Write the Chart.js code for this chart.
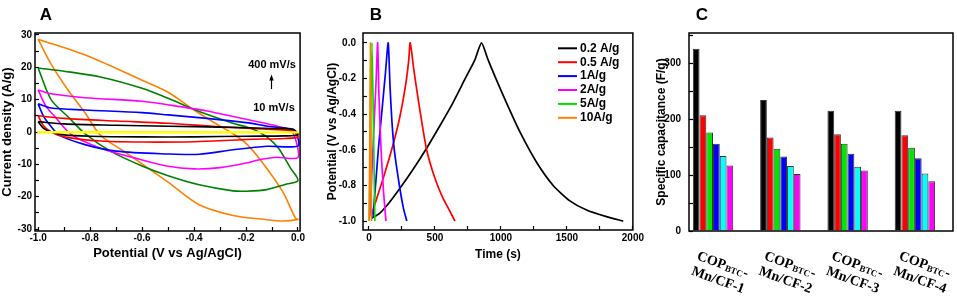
<!DOCTYPE html>
<html>
<head>
<meta charset="utf-8">
<title>CV, GCD and specific capacitance</title>
<script src="https://cdn.jsdelivr.net/npm/chart.js@4.4.1/dist/chart.umd.min.js"></script>
<style>
  html, body { margin: 0; padding: 0; background: #fff; }
  #fig { position: relative; width: 957px; height: 304px; overflow: hidden; }
  #fig canvas { position: absolute; top: 0; }
</style>
</head>
<body>
<div id="fig">
  <canvas id="cvChart" width="310" height="304" style="left:0px"></canvas>
  <canvas id="gcdChart" width="325" height="304" style="left:325px"></canvas>
  <canvas id="capChart" width="312" height="304" style="left:645px"></canvas>
</div>
<script>
// panel A: cyclic voltammetry loops, [potential (V), current density (A/g)]
const cv10 = [[-1.0,0.1],[-0.5,0.05],[0.0,0.0],[0.0,-0.2],[-0.5,-0.25],[-1.0,-0.2],[-1.0,0.1]]
const cv20 = [[-1.0,3.2],[-0.9,2.5],[-0.7,2.1],[-0.5,1.8],[-0.3,1.5],[-0.1,1.1],[-0.02,0.9],[0.0,-0.8],[-0.05,-1.2],[-0.2,-1.3],[-0.4,-1.5],[-0.6,-1.5],[-0.8,-1.3],[-0.9,-0.9],[-0.95,0.0],[-0.98,1.2],[-1.0,3.2]]
const cv50 = [[-1.0,5.0],[-0.9,4.2],[-0.7,3.4],[-0.5,2.7],[-0.3,1.6],[-0.1,0.8],[-0.02,0.3],[0.0,-1.5],[-0.05,-2.0],[-0.2,-2.3],[-0.4,-3.0],[-0.6,-3.1],[-0.76,-2.8],[-0.9,-1.5],[-0.95,0.0],[-0.98,2.0],[-1.0,5.0]]
const cv100 = [[-1.0,8.7],[-0.95,7.4],[-0.82,6.8],[-0.6,6.0],[-0.5,5.3],[-0.35,4.2],[-0.2,2.9],[-0.1,1.6],[-0.03,0.9],[-0.005,-0.8],[0.0,-4.3],[-0.12,-4.4],[-0.25,-5.5],[-0.38,-6.9],[-0.5,-6.8],[-0.7,-5.9],[-0.82,-3.9],[-0.92,-0.9],[-0.96,2.7],[-0.98,5.0],[-1.0,8.7]]
const cv200 = [[-1.0,13.0],[-0.95,11.8],[-0.82,10.6],[-0.6,9.5],[-0.5,8.4],[-0.35,6.5],[-0.25,4.8],[-0.15,3.1],[-0.08,1.8],[-0.03,0.6],[-0.01,-2.0],[0.0,-7.9],[-0.08,-7.8],[-0.14,-8.4],[-0.2,-9.6],[-0.3,-11.0],[-0.4,-11.4],[-0.5,-10.6],[-0.63,-8.0],[-0.76,-5.0],[-0.87,-0.9],[-0.935,4.7],[-0.97,8.0],[-1.0,13.0]]
const cv300 = [[-1.0,19.8],[-0.9,18.8],[-0.76,17.0],[-0.6,13.5],[-0.5,10.4],[-0.38,6.3],[-0.25,2.7],[-0.17,0.8],[-0.12,-1.5],[-0.075,-5.0],[-0.03,-11.0],[0.0,-15.0],[-0.05,-16.2],[-0.12,-17.8],[-0.2,-18.3],[-0.25,-18.2],[-0.38,-16.3],[-0.5,-13.5],[-0.6,-10.5],[-0.72,-6.0],[-0.82,-0.5],[-0.885,4.7],[-0.95,10.0],[-1.0,19.8]]
const cv400 = [[-1.0,28.7],[-0.8,23.2],[-0.6,16.0],[-0.5,12.3],[-0.4,6.8],[-0.3,1.8],[-0.26,0.0],[-0.2,-3.5],[-0.14,-9.1],[-0.06,-18.3],[-0.01,-26.6],[0.0,-27.0],[-0.06,-27.5],[-0.12,-27.1],[-0.25,-25.8],[-0.38,-22.5],[-0.5,-15.5],[-0.66,-6.5],[-0.76,-1.0],[-0.82,6.0],[-0.885,13.0],[-0.95,21.0],[-1.0,28.7]]
const cvLabels = ['10 mV/s','20 mV/s','50 mV/s','100 mV/s','200 mV/s','300 mV/s','400 mV/s']
const cvXMajor = [-1.0,-0.8,-0.6,-0.4,-0.2,0.0]
const cvXMinor = [-0.9,-0.7,-0.5,-0.3,-0.1]
const cvYMajor = [-30,-20,-10,0,10,20,30]
const cvYMinor = [-25,-15,-5,5,15,25]

// panel B: charge/discharge curves, [time (s), potential (V)]
const gcd02 = [[20,-0.985],[83,-0.955],[150,-0.9],[235,-0.816],[330,-0.715],[430,-0.6],[530,-0.475],[630,-0.345],[730,-0.2],[800,-0.1],[853,0.0],[900,-0.09],[950,-0.18],[1050,-0.35],[1144,-0.5],[1270,-0.67],[1396,-0.8],[1520,-0.885],[1649,-0.938],[1800,-0.975],[1927,-1.0]]
const gcd05 = [[20,-0.966],[60,-0.87],[100,-0.78],[172,-0.6],[230,-0.43],[275,-0.25],[300,-0.11],[313,0.0],[340,-0.15],[380,-0.35],[437,-0.6],[500,-0.76],[560,-0.87],[610,-0.94],[652,-1.0]]
const gcd1 = [[30,-0.98],[50,-0.8],[71,-0.6],[100,-0.37],[125,-0.17],[146,0.0],[160,-0.25],[175,-0.45],[192,-0.6],[235,-0.82],[262,-0.93],[287,-1.0]]
const gcd2 = [[8,-0.97],[30,-0.6],[55,-0.2],[66,0.0],[76,-0.3],[92,-0.6],[110,-0.83],[129,-1.0]]
const gcd5 = [[2,-1.0],[12,-0.5],[23,0.0],[35,-0.5],[45,-1.0]]
const gcd10 = [[2,-1.0],[7,-0.5],[11,0.0],[15,-0.5],[20,-1.0]]
const gcdLabels = ['0.2 A/g','0.5 A/g','1A/g','2A/g','5A/g','10A/g']
const gcdXMajor = [0,500,1000,1500,2000]
const gcdXMinor = [250,750,1250,1750]
const gcdYMajor = [-1.0,-0.8,-0.6,-0.4,-0.2,0.0]
const gcdYMinor = [-0.9,-0.7,-0.5,-0.3,-0.1]

// panel C: specific capacitance (F/g) per sample, one array per current density
const sampleNames = ['Mn/CF-1','Mn/CF-2','Mn/CF-3','Mn/CF-4']
const samplePrefix = 'COP'
const sampleSub = 'BTC'
const cap02 = [326, 234, 215, 215]
const cap05 = [207, 167, 173, 171]
const cap1 = [176, 147, 156, 149]
const cap2 = [156, 133, 138, 130]
const cap5 = [134, 116, 115, 103]
const cap10 = [117, 102, 108, 89]
const capLabels = ['0.2 A/g','0.5 A/g','1 A/g','2 A/g','5 A/g','10 A/g']
const capYMajor = [0,100,200,300]
const capYMinor = [50,150,250,350]

Chart.defaults.font.family = '"Liberation Sans", Arial, sans-serif'
Chart.defaults.font.weight = 'bold'
Chart.defaults.color = '#000'

function tickList(major, minor) {
    return s => { s.ticks = major.concat(minor).sort((a, b) => a - b).map(v => ({value: v})) }
}

function tickLabel(major, digits) {
    return v => major.some(m => Math.abs(m - v) < 1e-9) ? v.toFixed(digits) : ''
}

function axis(o) {
    return {
        type: 'linear',
        position: o.position,
        min: o.min,
        max: o.max,
        afterBuildTicks: tickList(o.major, o.minor),
        afterFit: s => { if (s.isHorizontal()) s.height = o.size; else s.width = o.size },
        ticks: {
            autoSkip: false, maxRotation: 0, padding: o.pad, color: '#000',
            font: {size: 10, weight: 'bold'},
            callback: tickLabel(o.major, o.digits)
        },
        grid: { drawOnChartArea: false, tickLength: -4, tickColor: '#000', tickWidth: 1.2 },
        border: { display: false },
        title: {
            display: true, text: o.title, color: '#000', padding: o.titlePad,
            font: {size: o.titleSize, weight: 'bold'}
        }
    }
}

const framePlugin = {
    id: 'frame',
    afterDatasetsDraw(chart) {
        let a = chart.chartArea
        let ctx = chart.ctx
        ctx.save()
        ctx.strokeStyle = '#000'
        ctx.lineWidth = 1.5
        ctx.strokeRect(a.left, a.top, a.right - a.left, a.bottom - a.top)
        ctx.restore()
    }
}

const letterPlugin = {
    id: 'panelLetter',
    afterDraw(chart, args, opts) {
        let ctx = chart.ctx
        ctx.save()
        ctx.fillStyle = '#000'
        ctx.font = 'bold 17px "Liberation Sans", Arial, sans-serif'
        ctx.textAlign = 'center'
        ctx.textBaseline = 'middle'
        ctx.fillText(opts.text, chart.chartArea.left + opts.dx, 15)
        ctx.restore()
    }
}

const scanNote = {
    id: 'scanNote',
    afterDraw(chart) {
        let ctx = chart.ctx
        ctx.save()
        ctx.fillStyle = '#000'
        ctx.strokeStyle = '#000'
        ctx.font = 'bold 11px "Liberation Sans", Arial, sans-serif'
        ctx.textAlign = 'center'
        ctx.textBaseline = 'middle'
        ctx.fillText(cvLabels[cvLabels.length - 1], 272, 65)
        ctx.fillText(cvLabels[0], 274, 108)
        ctx.lineWidth = 1.2
        ctx.beginPath()
        ctx.moveTo(271.5, 89)
        ctx.lineTo(271.5, 79)
        ctx.stroke()
        ctx.beginPath()
        ctx.moveTo(271.5, 74.5)
        ctx.lineTo(269.3, 80.5)
        ctx.lineTo(273.7, 80.5)
        ctx.closePath()
        ctx.fill()
        ctx.restore()
    }
}

const gcdLegend = {
    id: 'gcdLegend',
    afterDraw(chart) {
        let ctx = chart.ctx
        ctx.save()
        ctx.font = 'bold 12px "Liberation Sans", Arial, sans-serif'
        ctx.textBaseline = 'middle'
        ctx.textAlign = 'left'
        chart.data.datasets.forEach((ds, i) => {
            let y = 48.3 + i * 13.9
            ctx.strokeStyle = ds.borderColor
            ctx.lineWidth = 2
            ctx.beginPath()
            ctx.moveTo(233, y)
            ctx.lineTo(252, y)
            ctx.stroke()
            ctx.fillStyle = '#000'
            ctx.fillText(ds.label, 255, y)
        })
        ctx.restore()
    }
}

const sampleAxis = {
    id: 'sampleAxis',
    afterDraw(chart) {
        let ctx = chart.ctx
        let xs = chart.scales.x
        let big = 'bold 14px "Liberation Serif", "Times New Roman", serif'
        let small = 'bold 9px "Liberation Serif", "Times New Roman", serif'
        ctx.save()
        ctx.fillStyle = '#000'
        ctx.textAlign = 'left'
        ctx.textBaseline = 'alphabetic'
        sampleNames.forEach((name, i) => {
            ctx.save()
            ctx.translate(xs.getPixelForValue(i) - 13, 249)
            ctx.rotate(20 * Math.PI / 180)
            ctx.font = big
            ctx.fillText(samplePrefix, 0, 11)
            let w = ctx.measureText(samplePrefix).width
            ctx.font = small
            ctx.fillText(sampleSub, w + 0.5, 12)
            let w2 = ctx.measureText(sampleSub).width
            ctx.font = big
            ctx.fillText('-', w + w2 + 1, 11)
            ctx.fillText(name, 0, 27)
            ctx.restore()
        })
        ctx.restore()
    }
}

const toPoints = arr => arr.map(p => ({x: p[0], y: p[1]}))

// panel A
let cvColors = ['#ffff00', '#000000', '#ff0000', '#0000ff', '#ff00ff', '#008000', '#ff8000']
let cvSets = [cv10, cv20, cv50, cv100, cv200, cv300, cv400]

new Chart(document.getElementById('cvChart'), {
    type: 'scatter',
    data: {
        datasets: cvSets.map((d, i) => ({
            label: cvLabels[i],
            data: toPoints(d),
            showLine: true,
            borderColor: cvColors[i],
            backgroundColor: cvColors[i],
            borderWidth: 1.6,
            pointRadius: 0,
            tension: i === 0 ? 0 : 0.3
        }))
    },
    options: {
        responsive: false,
        animation: false,
        layout: { autoPadding: false, padding: {top: 33, right: 7, bottom: 43, left: 0} },
        plugins: { legend: {display: false}, tooltip: {enabled: false}, panelLetter: {text: 'A', dx: 11} },
        scales: {
            x: axis({position: 'bottom', min: -1.012, max: 0.008, major: cvXMajor, minor: cvXMinor, digits: 1,
                     size: 30, pad: 5, title: 'Potential (V vs Ag/AgCl)', titleSize: 13, titlePad: 0}),
            y: axis({position: 'left', min: -30.6, max: 30.6, major: cvYMajor, minor: cvYMinor, digits: 0,
                     size: 35, pad: 7, title: 'Current density (A/g)', titleSize: 13, titlePad: 0})
        }
    },
    plugins: [framePlugin, letterPlugin, scanNote]
})

// panel B
let gcdColors = ['#000000', '#ff0000', '#0000ff', '#ff00ff', '#00e000', '#ff8000']
let gcdSets = [gcd02, gcd05, gcd1, gcd2, gcd5, gcd10]

new Chart(document.getElementById('gcdChart'), {
    type: 'scatter',
    data: {
        datasets: gcdSets.map((d, i) => ({
            label: gcdLabels[i],
            data: toPoints(d),
            showLine: true,
            borderColor: gcdColors[i],
            backgroundColor: gcdColors[i],
            borderWidth: 1.7,
            pointRadius: 0,
            tension: 0.2,
            order: -i
        }))
    },
    options: {
        responsive: false,
        animation: false,
        layout: { autoPadding: false, padding: {top: 33, right: 17, bottom: 42, left: 0} },
        plugins: { legend: {display: false}, tooltip: {enabled: false}, panelLetter: {text: 'B', dx: 13} },
        scales: {
            x: axis({position: 'bottom', min: -45, max: 2000, major: gcdXMajor, minor: gcdXMinor, digits: 0,
                     size: 32, pad: 6, title: 'Time (s)', titleSize: 12, titlePad: 0}),
            y: axis({position: 'left', min: -1.05, max: 0.055, major: gcdYMajor, minor: gcdYMinor, digits: 1,
                     size: 38, pad: 11, title: 'Potential (V vs Ag/AgCl)', titleSize: 12, titlePad: 0})
        }
    },
    plugins: [framePlugin, letterPlugin, gcdLegend]
})

// panel C
let capColors = ['#000000', '#ff0000', '#00e600', '#0000ff', '#00ffff', '#ff00ff']
let capSets = [cap02, cap05, cap1, cap2, cap5, cap10]
let capY = axis({position: 'left', min: 0, max: 354, major: capYMajor, minor: capYMinor, digits: 0,
                 size: 44, pad: 12, title: 'Specific capacitance (F/g)', titleSize: 12, titlePad: {top: 9, bottom: 0}})

new Chart(document.getElementById('capChart'), {
    type: 'bar',
    data: {
        datasets: capSets.map((d, i) => ({
            label: capLabels[i],
            data: d.map((v, j) => ({x: j, y: v})),
            backgroundColor: capColors[i],
            borderColor: '#333',
            borderWidth: 1,
            categoryPercentage: 0.6,
            barPercentage: 1.0
        }))
    },
    options: {
        responsive: false,
        animation: false,
        layout: { autoPadding: false, padding: {top: 33, right: 4, bottom: 0, left: 0} },
        plugins: { legend: {display: false}, tooltip: {enabled: false}, panelLetter: {text: 'C', dx: 13} },
        scales: {
            x: {
                type: 'linear', position: 'bottom', min: -0.357, max: 3.566, offset: false,
                grid: {display: false, offset: false}, ticks: {display: false}, border: {display: false},
                afterFit: s => { s.height = 73 }
            },
            y: capY
        }
    },
    plugins: [framePlugin, letterPlugin, sampleAxis]
})
</script>
</body>
</html>
